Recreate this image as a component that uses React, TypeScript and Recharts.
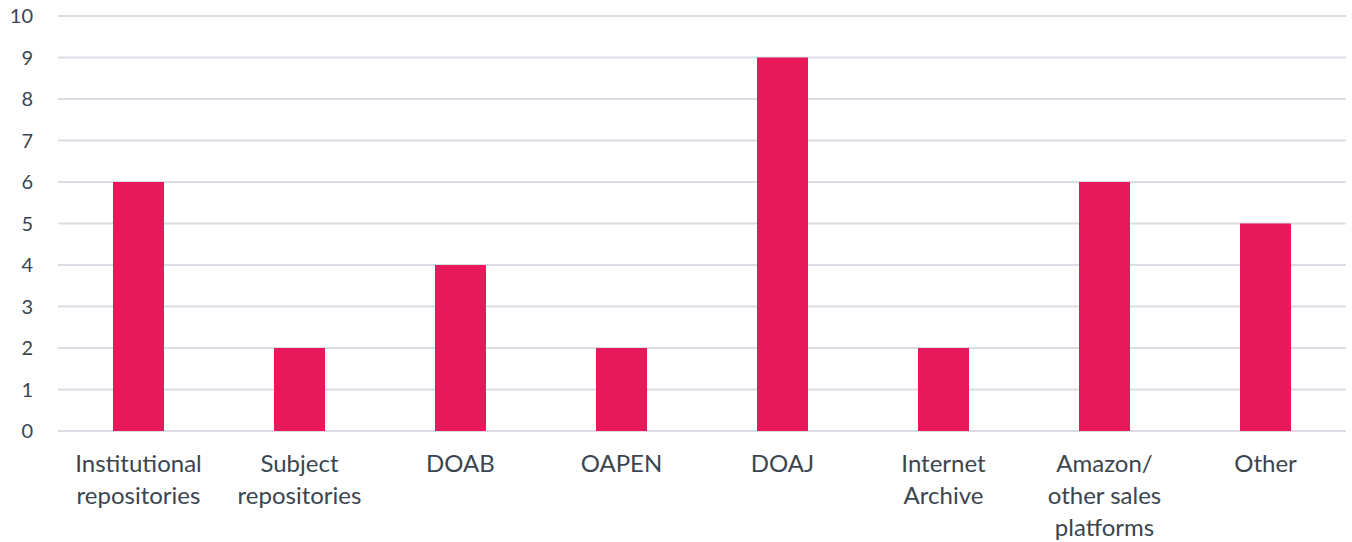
import { BarChart, Bar, XAxis, YAxis, CartesianGrid } from 'recharts';

const categories = [
  'Institutional repositories',
  'Subject repositories',
  'DOAB',
  'OAPEN',
  'DOAJ',
  'Internet Archive',
  'Amazon/ other sales platforms',
  'Other'
];
const labelLines = [
  ['Institutional', 'repositories'],
  ['Subject', 'repositories'],
  ['DOAB'],
  ['OAPEN'],
  ['DOAJ'],
  ['Internet', 'Archive'],
  ['Amazon/', 'other sales', 'platforms'],
  ['Other']
];
const counts = [6, 2, 4, 2, 9, 2, 6, 5];
const yTicks = [0, 1, 2, 3, 4, 5, 6, 7, 8, 9, 10];

const data = categories.map((c, i) => ({ name: c, value: counts[i], idx: i }));

const FONT = 'Lato, "Open Sans", sans-serif';
const TEXT = '#3b4550';

function XTick(props: any) {
  const { x, y, index } = props;
  const lines = labelLines[index] || [];
  return (
    <g transform={`translate(${x},${y})`}>
      {lines.map((l, i) => (
        <text
          key={i}
          x={0}
          y={i * 32 + 33}
          textAnchor="middle"
          fill={TEXT}
          fontSize={24}
          fontFamily={FONT}
        >
          {l}
        </text>
      ))}
    </g>
  );
}

export default function App() {
  return (
    <div style={{ position: 'absolute', left: 0, top: 0, background: '#fff' }}>
      <BarChart
        width={1352}
        height={542}
        data={data}
        margin={{ top: 16, right: 6, bottom: 0, left: 0 }}
      >
        <CartesianGrid vertical={false} stroke="#d9dee4" strokeWidth={2} />
        <XAxis
          dataKey="name"
          tickLine={false}
          axisLine={false}
          interval={0}
          tick={<XTick />}
          height={111}
        />
        <YAxis
          domain={[0, 10]}
          ticks={yTicks}
          interval={0}
          width={58}
          tickLine={false}
          axisLine={false}
          tickMargin={19}
          tick={{ fill: TEXT, fontSize: 20, fontFamily: FONT }}
        />
        <Bar dataKey="value" fill="#e8195a" barSize={51} isAnimationActive={false} />
      </BarChart>
    </div>
  );
}
